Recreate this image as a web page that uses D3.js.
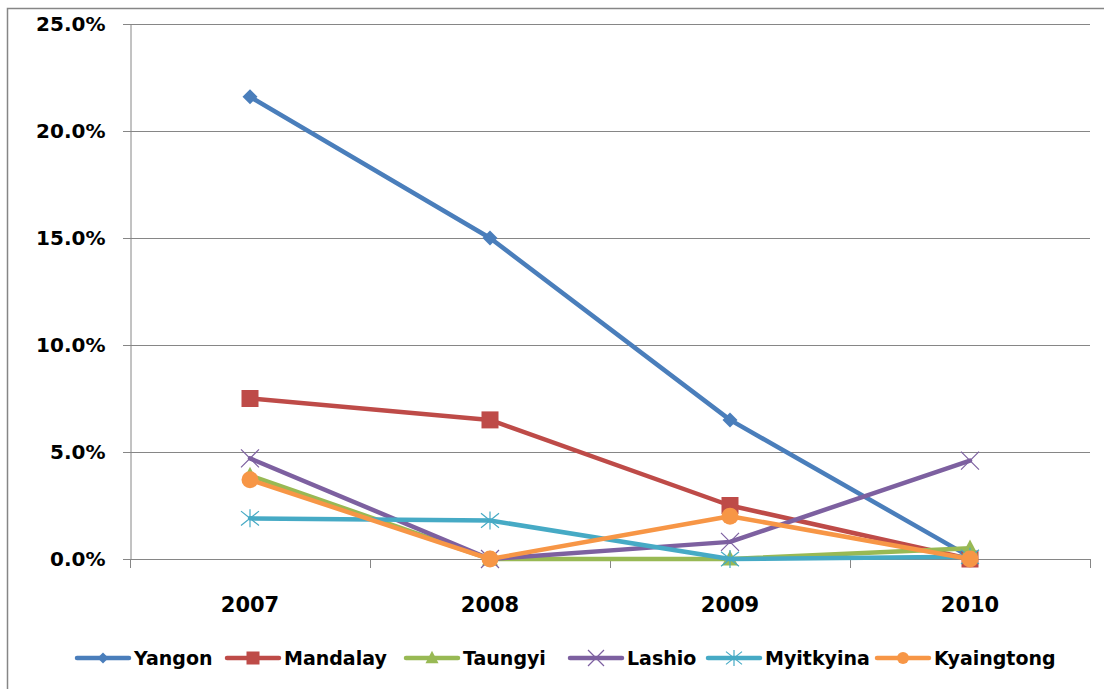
<!DOCTYPE html>
<html><head><meta charset="utf-8">
<script src="https://cdn.jsdelivr.net/npm/d3@7"></script>
<style>body{margin:0;background:#fff}svg{display:block}</style>
</head><body>
<script>
const years = ["2007","2008","2009","2010"];
const yTicks = [0,5,10,15,20,25];
const seriesNames = ["Yangon","Mandalay","Taungyi","Lashio","Myitkyina","Kyaingtong"];
const yangon     = [21.6, 15.0, 6.5, 0.1];
const mandalay   = [7.5, 6.5, 2.5, 0.0];
const taungyi    = [3.9, 0.0, 0.0, 0.5];
const lashio     = [4.7, 0.0, 0.8, 4.6];
const myitkyina  = [1.9, 1.8, 0.0, 0.1];
const kyaingtong = [3.7, 0.0, 2.0, 0.0];
const colors = ["#4A7EBB","#BE4B48","#98B954","#7D60A0","#46AAC5","#F79646"];
const markers = ["diamond","square","triangle","x","star","circle"];
const values = [yangon, mandalay, taungyi, lashio, myitkyina, kyaingtong];

(function(){
const W=1104,H=689;
const svg=d3.select("body").append("svg").attr("width",W).attr("height",H);
svg.append("rect").attr("x",7.5).attr("y",8.5).attr("width",1110).attr("height",700)
  .attr("fill","none").attr("stroke","#868686").attr("stroke-width",1.5);

const pL=130,pR=1090,pT=24,pB=559;
const x=d3.scaleBand().domain(years).range([pL,pR]);
const y=d3.scaleLinear().domain([0,25]).range([pB,pT]);
const font="DejaVu Sans";

svg.append("g").selectAll("line").data(yTicks).join("line")
  .attr("x1",pL-7).attr("x2",pR).attr("y1",d=>y(d)+0.5).attr("y2",d=>y(d)+0.5)
  .attr("stroke","#868686").attr("stroke-width",1);
const ya=svg.append("g").attr("transform",`translate(${pL+0.5},0)`)
  .call(d3.axisLeft(y).tickValues(yTicks).tickSize(0).tickPadding(25).tickFormat(d=>d.toFixed(1)+"%"));
ya.select(".domain").attr("stroke","#868686");
ya.selectAll("text").attr("font-family",font).attr("font-weight","bold").attr("font-size",20).attr("fill","#000");
const xa=svg.append("g").attr("transform",`translate(0,${pB+0.5})`)
  .call(d3.axisBottom(x).tickSize(0).tickPadding(38));
xa.select(".domain").remove();
xa.selectAll("text").attr("font-family",font).attr("font-weight","bold").attr("font-size",21).attr("fill","#000");
svg.append("g").selectAll("line").data(years.map(d=>x(d)).concat([pR]))
  .join("line").attr("x1",d=>d+0.5).attr("x2",d=>d+0.5).attr("y1",pB).attr("y2",pB+9)
  .attr("stroke","#868686");

function drawMarker(g,type,color,s){
  const r=s/2;
  if(type==="diamond") g.append("path").attr("d",`M0,${-r}L${r},0L0,${r}L${-r},0Z`).attr("fill",color);
  else if(type==="square") g.append("rect").attr("x",-r).attr("y",-r).attr("width",s).attr("height",s).attr("fill",color);
  else if(type==="triangle") g.append("path").attr("d",`M0,${-r*1.1}L${r},${r*0.8}L${-r},${r*0.8}Z`).attr("fill",color);
  else if(type==="circle") g.append("circle").attr("r",r).attr("fill",color);
  else if(type==="x"){
    g.append("path").attr("d",`M${-r},${-r}L${r},${r}M${-r},${r}L${r},${-r}`).attr("stroke",color).attr("stroke-width",1.2).attr("fill","none");
  } else if(type==="star"){
    g.append("path").attr("d",`M${-r},${-r*0.8}L${r},${r*0.8}M${-r},${r*0.8}L${r},${-r*0.8}M0,${-r}L0,${r}`).attr("stroke",color).attr("stroke-width",1.2).attr("fill","none");
  }
}

const line=d3.line().x((d,i)=>x(years[i])+x.bandwidth()/2).y(d=>y(d));
values.forEach((vals,si)=>{
  const g=svg.append("g");
  g.append("path").datum(vals).attr("d",line).attr("fill","none")
    .attr("stroke",colors[si]).attr("stroke-width",4.5).attr("stroke-linejoin","round").attr("stroke-linecap","round");
  vals.forEach((v,i)=>{
    const mg=g.append("g").attr("transform",`translate(${x(years[i])+x.bandwidth()/2},${y(v)})`);
    const sz = {diamond:15,square:17,triangle:16,x:18,star:18,circle:17}[markers[si]];
    drawMarker(mg,markers[si],colors[si],sz);
  });
});

const legX=[77,227,406,570,708,877];
const lg=svg.append("g");
seriesNames.forEach((n,i)=>{
  const g=lg.append("g").attr("transform",`translate(${legX[i]},658)`);
  g.append("line").attr("x1",0).attr("x2",52).attr("y1",0).attr("y2",0).attr("stroke",colors[i]).attr("stroke-width",4.5).attr("stroke-linecap","round");
  const mg=g.append("g").attr("transform","translate(26,0)");
  const sz = {diamond:11,square:13,triangle:13,x:16,star:16,circle:12}[markers[i]];
  drawMarker(mg,markers[i],colors[i],sz);
  g.append("text").attr("x",57).attr("y",7).text(n).attr("font-family",font).attr("font-weight","bold").attr("font-size",19).attr("fill","#000");
});
})();
</script>
</body></html>
